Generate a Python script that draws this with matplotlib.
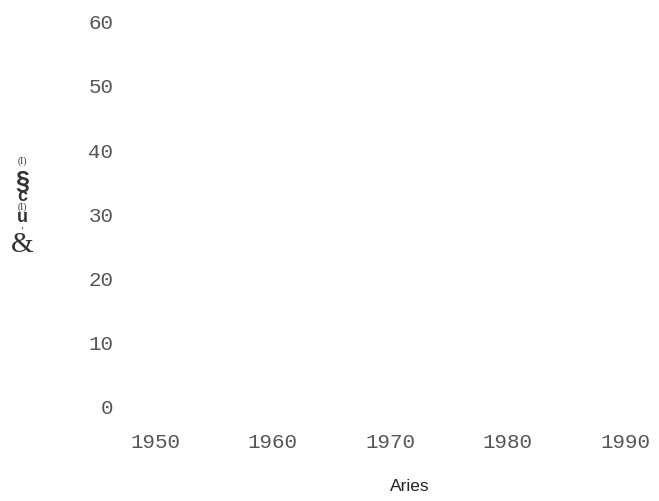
import matplotlib
matplotlib.use('Agg')
import matplotlib.pyplot as plt

# the chart has no visible marks, only axes text
years = []
values = []
x_ticks = [1950, 1960, 1970, 1980, 1990]
y_ticks = [0, 10, 20, 30, 40, 50, 60]
x_label = 'Aries'
# y label is drawn as stacked glyphs, top to bottom
y_label_glyphs = ['(I)', '§', 'c', '(I)', 'u', '˙,', '&']

W, H = 659, 502
fig = plt.figure(figsize=(W / 100, H / 100), dpi=100)

# axes placed in pixel terms
left, right, top, bottom = 130, 659, 10, 420
ax = fig.add_axes([left / W, 1 - bottom / H, (right - left) / W, (bottom - top) / H])

ax.plot(years, values)

# pixel mapping: x px = 155 + (yr-1950)*11.75 ; y px = 407 - v*6.42
ax.set_xlim(1950 - (155 - left) / 11.75, 1950 + (right - 155) / 11.75)
ax.set_ylim(-(bottom - 407) / 6.42, (407 - top) / 6.42)

ax.set_xticks(x_ticks)
ax.set_yticks(y_ticks)
ax.set_xticklabels([str(t) for t in x_ticks], family='Liberation Mono', fontsize=15, color='#555555')
ax.set_yticklabels([str(t) for t in y_ticks], family='Liberation Mono', fontsize=15, color='#555555')
ax.tick_params(length=0, pad=12)
ax.tick_params(axis='x', pad=9)
for s in ax.spines.values():
    s.set_visible(False)

fig.text(410 / W, 1 - 487 / H, x_label, family='Liberation Sans', fontsize=12.5,
         color='#222222', ha='center', va='center')

# stacked y label glyphs
glyph_y = [161, 182, 197, 207, 217, 226, 245]
glyph_sz = [7, 18, 13, 7, 13, 7, 21]
glyph_w = ['normal', 'bold', 'bold', 'normal', 'bold', 'normal', 'normal']
glyph_f = ['Liberation Serif', 'Liberation Sans', 'Liberation Sans', 'Liberation Serif',
           'Liberation Sans', 'Liberation Serif', 'Liberation Serif']
for g, gy, gs, gw, gf in zip(y_label_glyphs, glyph_y, glyph_sz, glyph_w, glyph_f):
    fig.text(22 / W, 1 - gy / H, g, family=gf, fontsize=gs,
             fontweight=gw, color='#333333', ha='center', va='center')

fig.savefig('out.png', dpi=100)
